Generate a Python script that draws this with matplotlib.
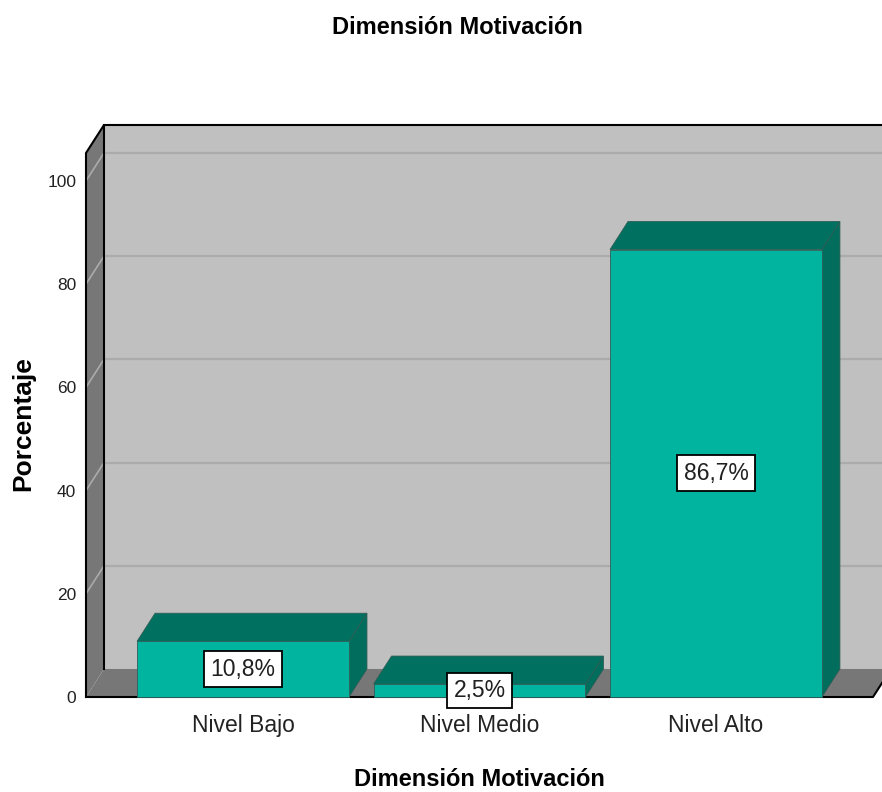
import matplotlib
import matplotlib.pyplot as plt

matplotlib.use("Agg")

plt.rcParams["font.family"] = ["Liberation Sans", "DejaVu Sans"]

# datos
categorias = ["Nivel Bajo", "Nivel Medio", "Nivel Alto"]
porcentajes = [10.8, 2.5, 86.7]
ticks_y = [0, 20, 40, 60, 80, 100]
titulo = "Dimensión Motivación"

# colores estilo SPSS
C_FONDO = "#C0C0C0"
C_PARED = "#777777"
C_GRID = "#ABABAB"
C_FRENTE = "#00B4A0"
C_TAPA = "#007060"
C_LADO = "#006D5D"
C_BORDE = "#2E5E57"

X0, X1 = -0.664, 2.664
YTOP = 105.4
DX, DY = 0.0761, 5.43   # desplazamiento de profundidad (efecto 3D)
ANCHO = 0.896

fig = plt.figure(figsize=(8.82, 7.92), dpi=100)
ax = fig.add_axes([86 / 882, 95 / 792, 787 / 882, 544 / 792])
ax.set_xlim(X0, X1)
ax.set_ylim(0, YTOP)
ax.patch.set_visible(False)
for s in ax.spines.values():
    s.set_visible(False)

# pared de fondo
ax.fill([X0 + DX, X1 + DX, X1 + DX, X0 + DX],
        [DY, DY, YTOP + DY, YTOP + DY], color=C_FONDO, lw=0, clip_on=False, zorder=1)
for t in ticks_y[1:]:
    ax.plot([X0 + DX, X1 + DX], [t + DY, t + DY], color=C_GRID, lw=1.6,
            clip_on=False, zorder=2)
ax.plot([X0 + DX, X1 + DX], [YTOP + DY, YTOP + DY], color="black", lw=1.5,
        clip_on=False, zorder=3)

# pared lateral izquierda
ax.fill([X0, X0 + DX, X0 + DX, X0], [0, DY, YTOP + DY, YTOP],
        color=C_PARED, lw=0, clip_on=False, zorder=3)
for t in ticks_y[1:]:
    ax.plot([X0, X0 + DX], [t, t + DY], color=C_GRID, lw=1.2, clip_on=False, zorder=4)
ax.plot([X0, X0, X0 + DX, X0 + DX], [0, YTOP, YTOP + DY, DY], color="black",
        lw=1.5, clip_on=False, zorder=5)

# piso
ax.fill([X0, X1, X1 + DX, X0 + DX], [0, 0, DY, DY], color=C_PARED, lw=0,
        clip_on=False, zorder=3)
ax.plot([X0, X1, X1 + DX], [0, 0, DY], color="black", lw=1.5, clip_on=False, zorder=5)

# barras 3D
for i, v in enumerate(porcentajes):
    l, r = i - ANCHO / 2, i + ANCHO / 2
    ax.fill([r, r + DX, r + DX, r], [0, DY, v + DY, v], facecolor=C_LADO,
            edgecolor=C_BORDE, lw=0.6, clip_on=False, zorder=6)
    ax.fill([l, r, r + DX, l + DX], [v, v, v + DY, v + DY], facecolor=C_TAPA,
            edgecolor=C_BORDE, lw=0.6, clip_on=False, zorder=6)
    ax.fill([l, r, r, l], [0, 0, v, v], facecolor=C_FRENTE,
            edgecolor=C_BORDE, lw=0.6, clip_on=False, zorder=7)
    etiqueta = f"{v:.1f}%".replace(".", ",")
    ax.text(i, v / 2, etiqueta, ha="center", va="center", fontsize=16.5,
            color="#202020", zorder=9,
            bbox=dict(boxstyle="square,pad=0.28", facecolor="white",
                      edgecolor="black", lw=1.3))

ax.set_xticks(range(len(categorias)))
ax.set_xticklabels(categorias, fontsize=16.5, color="#222222")
ax.set_yticks(ticks_y)
ax.set_yticklabels([str(t) for t in ticks_y], fontsize=12.5, color="#222222")
ax.tick_params(axis="x", length=0, pad=12)
ax.tick_params(axis="y", length=0, pad=7)

fig.text(457 / 882, 1 - 28 / 792, titulo, ha="center", va="center",
         fontsize=17, fontweight="bold")
fig.text(479 / 882, 1 - 779 / 792, titulo, ha="center", va="center",
         fontsize=17, fontweight="bold")
fig.text(23 / 882, 1 - 424 / 792, "Porcentaje", ha="center", va="center",
         rotation=90, fontsize=19, fontweight="bold")

fig.savefig("out.png", dpi=100)
